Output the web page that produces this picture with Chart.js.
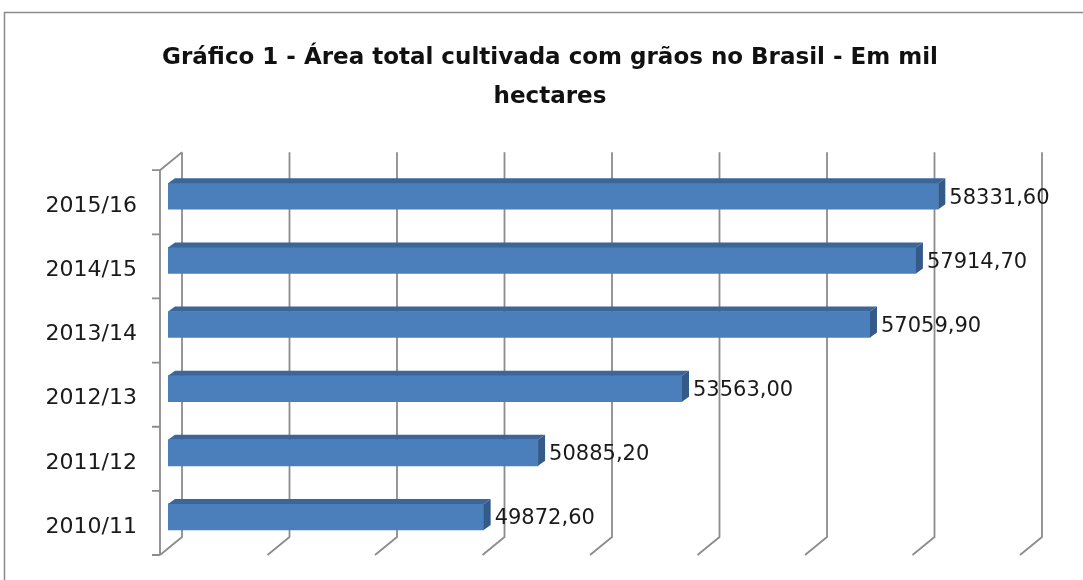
<!DOCTYPE html>
<html>
<head>
<meta charset="utf-8">
<script src="https://cdn.jsdelivr.net/npm/chart.js@4/dist/chart.umd.min.js"></script>
<style>
  html, body { margin: 0; padding: 0; background: #fff; }
  #wrap { width: 1083px; height: 580px; position: relative; }
</style>
</head>
<body>
<div id="wrap"><canvas id="areaChart"></canvas></div>
<script>
const safras = ["2010/11", "2011/12", "2012/13", "2013/14", "2014/15", "2015/16"];
const areaMilHa = [49872.60, 50885.20, 53563.00, 57059.90, 57914.70, 58331.60];
const eixoMin = 44000;
const eixoMax = 60000;
const eixoPasso = 2000;

const tituloLinhas = ["Gráfico 1 - Área total cultivada com grãos no Brasil - Em mil", "hectares"];

// pseudo 3D offsets (bar plane -> back wall / front edge)
const DEPTH = { bx: 14, by: -12, fx: -8, fy: 6, topX: 7, topY: -5 };
const gridColor = "#8c8c8c";

function fmtBR(v) {
    return v.toFixed(2).replace(".", ",");
}

const moldura = {
    id: "moldura",
    beforeDraw(chart) {
        const ctx = chart.ctx;
        ctx.save();
        ctx.strokeStyle = "#8a8a8a";
        ctx.lineWidth = 1.5;
        ctx.strokeRect(4.5, 12.5, 1300, 800);
        ctx.restore();
    }
};

const paredes = {
    id: "paredes",
    beforeDatasetsDraw(chart) {
        const { ctx, chartArea, scales } = chart;
        const xs = scales.x;
        const top = chartArea.top, bottom = chartArea.bottom;
        ctx.save();
        ctx.strokeStyle = gridColor;
        ctx.lineWidth = 1.8;
        ctx.beginPath();
        for (let v = eixoMin; v <= eixoMax; v += eixoPasso) {
            const px = xs.getPixelForValue(v);
            // back wall vertical
            ctx.moveTo(px + DEPTH.bx, top + DEPTH.by);
            ctx.lineTo(px + DEPTH.bx, bottom + DEPTH.by);
            // floor slant
            ctx.lineTo(px + DEPTH.fx, bottom + DEPTH.fy);
        }
        // left wall
        const lx = chartArea.left + DEPTH.fx;
        ctx.moveTo(chartArea.left + DEPTH.bx, top + DEPTH.by);
        ctx.lineTo(lx, top + DEPTH.fy);
        ctx.lineTo(lx, bottom + DEPTH.fy);
        // category ticks
        const n = safras.length;
        const step = (bottom - top) / n;
        for (let i = 0; i <= n; i++) {
            const y = top + DEPTH.fy + i * step;
            ctx.moveTo(lx - 8, y);
            ctx.lineTo(lx, y);
        }
        ctx.stroke();
        ctx.restore();
    },
    afterDatasetsDraw(chart) {
        const ctx = chart.ctx;
        const meta = chart.getDatasetMeta(0);
        ctx.save();
        meta.data.forEach((bar, i) => {
            const x0 = Math.max(bar.base, chart.chartArea.left), x1 = bar.x;
            const yT = bar.y - bar.height / 2, yB = bar.y + bar.height / 2;
            // top face
            ctx.fillStyle = "#3b6697";
            ctx.beginPath();
            ctx.moveTo(x0, yT);
            ctx.lineTo(x0 + DEPTH.topX, yT + DEPTH.topY);
            ctx.lineTo(x1 + DEPTH.topX, yT + DEPTH.topY);
            ctx.lineTo(x1, yT);
            ctx.closePath();
            ctx.fill();
            // right side
            ctx.fillStyle = "#335a88";
            ctx.beginPath();
            ctx.moveTo(x1, yT);
            ctx.lineTo(x1 + DEPTH.topX, yT + DEPTH.topY);
            ctx.lineTo(x1 + DEPTH.topX, yB + DEPTH.topY);
            ctx.lineTo(x1, yB);
            ctx.closePath();
            ctx.fill();
            // value label
            ctx.fillStyle = "#1a1a1a";
            ctx.font = "21px 'DejaVu Sans'";
            ctx.textAlign = "left";
            ctx.textBaseline = "middle";
            ctx.fillText(fmtBR(areaMilHa[i]), x1 + DEPTH.topX + 4, bar.y + 2);
        });
        ctx.restore();
    }
};

const ctx = document.getElementById("areaChart").getContext("2d");
new Chart(ctx, {
    type: "bar",
    data: {
        labels: safras,
        datasets: [{
            data: areaMilHa,
            backgroundColor: "#4b7fbc",
            borderWidth: 0,
            barThickness: 26
        }]
    },
    options: {
        indexAxis: "y",
        responsive: true,
        maintainAspectRatio: false,
        animation: false,
        layout: { padding: { left: 30, right: 13, top: 0, bottom: 31 } },
        plugins: {
            legend: { display: false },
            tooltip: { enabled: false },
            title: {
                display: true,
                text: tituloLinhas,
                color: "#111",
                font: { family: "'DejaVu Sans'", size: 23, weight: "bold", lineHeight: 1.7 },
                padding: { top: 38, bottom: 48 }
            }
        },
        scales: {
            x: {
                display: false,
                min: eixoMin,
                max: eixoMax,
                ticks: { stepSize: eixoPasso }
            },
            y: {
                reverse: true,
                grid: { display: false, drawTicks: false },
                border: { display: false },
                ticks: {
                    color: "#1a1a1a",
                    font: { family: "'DejaVu Sans'", size: 22 },
                    padding: 31,
                    labelOffset: 10
                },
                afterFit(scale) {
                    scale.width = 138;
                    scale.paddingTop = 0;
                    scale.paddingBottom = 0;
                }
            },
            yDir: {
                type: "category",
                position: "right",
                grid: { display: false, drawTicks: false },
                border: { display: false },
                ticks: { display: false },
                afterFit(scale) { scale.width = 42; }
            }
        }
    },
    plugins: [moldura, paredes]
});
</script>
</body>
</html>
